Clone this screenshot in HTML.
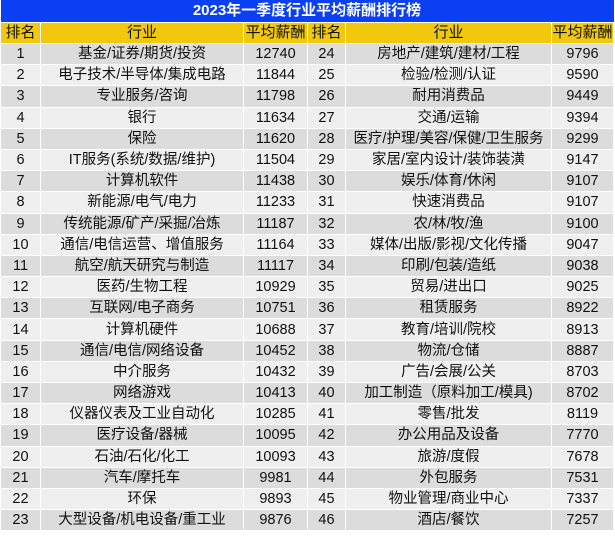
<!DOCTYPE html>
<html><head><meta charset="utf-8"><style>
body{margin:0;background:#fff;width:615px;height:544px;overflow:hidden}
table{border-collapse:collapse;table-layout:fixed;width:613px;font-family:"Liberation Sans","Microsoft YaHei","Noto Sans CJK SC",sans-serif;font-size:14.5px;color:#111}
td{border:1px solid #fff;text-align:center;padding:0;height:20.2px;line-height:20px;white-space:nowrap;overflow:hidden}
.t td{background:#0b3ff4;color:#fff;font-weight:bold;font-size:15px;height:22px;border:none}
.h td{background:#f2c80c;font-size:15px;height:20px}
tr.a td{background:#dcdcdc}
tr.b td{background:#efefef}
</style></head><body>
<table>
<colgroup><col style="width:40px"><col style="width:203px"><col style="width:64px"><col style="width:38px"><col style="width:206px"><col style="width:62px"></colgroup>
<tr class="t"><td colspan="6">2023年一季度行业平均薪酬排行榜</td></tr>
<tr class="h"><td>排名</td><td>行业</td><td>平均薪酬</td><td>排名</td><td>行业</td><td>平均薪酬</td></tr>
<tr class="a"><td>1</td><td>基金/证券/期货/投资</td><td>12740</td><td>24</td><td>房地产/建筑/建材/工程</td><td>9796</td></tr>
<tr class="b"><td>2</td><td>电子技术/半导体/集成电路</td><td>11844</td><td>25</td><td>检验/检测/认证</td><td>9590</td></tr>
<tr class="a"><td>3</td><td>专业服务/咨询</td><td>11798</td><td>26</td><td>耐用消费品</td><td>9449</td></tr>
<tr class="b"><td>4</td><td>银行</td><td>11634</td><td>27</td><td>交通/运输</td><td>9394</td></tr>
<tr class="a"><td>5</td><td>保险</td><td>11620</td><td>28</td><td>医疗/护理/美容/保健/卫生服务</td><td>9299</td></tr>
<tr class="b"><td>6</td><td>IT服务(系统/数据/维护)</td><td>11504</td><td>29</td><td>家居/室内设计/装饰装潢</td><td>9147</td></tr>
<tr class="a"><td>7</td><td>计算机软件</td><td>11438</td><td>30</td><td>娱乐/体育/休闲</td><td>9107</td></tr>
<tr class="b"><td>8</td><td>新能源/电气/电力</td><td>11233</td><td>31</td><td>快速消费品</td><td>9107</td></tr>
<tr class="a"><td>9</td><td>传统能源/矿产/采掘/冶炼</td><td>11187</td><td>32</td><td>农/林/牧/渔</td><td>9100</td></tr>
<tr class="b"><td>10</td><td>通信/电信运营、增值服务</td><td>11164</td><td>33</td><td>媒体/出版/影视/文化传播</td><td>9047</td></tr>
<tr class="a"><td>11</td><td>航空/航天研究与制造</td><td>11117</td><td>34</td><td>印刷/包装/造纸</td><td>9038</td></tr>
<tr class="b"><td>12</td><td>医药/生物工程</td><td>10929</td><td>35</td><td>贸易/进出口</td><td>9025</td></tr>
<tr class="a"><td>13</td><td>互联网/电子商务</td><td>10751</td><td>36</td><td>租赁服务</td><td>8922</td></tr>
<tr class="b"><td>14</td><td>计算机硬件</td><td>10688</td><td>37</td><td>教育/培训/院校</td><td>8913</td></tr>
<tr class="a"><td>15</td><td>通信/电信/网络设备</td><td>10452</td><td>38</td><td>物流/仓储</td><td>8887</td></tr>
<tr class="b"><td>16</td><td>中介服务</td><td>10432</td><td>39</td><td>广告/会展/公关</td><td>8703</td></tr>
<tr class="a"><td>17</td><td>网络游戏</td><td>10413</td><td>40</td><td>加工制造（原料加工/模具)</td><td>8702</td></tr>
<tr class="b"><td>18</td><td>仪器仪表及工业自动化</td><td>10285</td><td>41</td><td>零售/批发</td><td>8119</td></tr>
<tr class="a"><td>19</td><td>医疗设备/器械</td><td>10095</td><td>42</td><td>办公用品及设备</td><td>7770</td></tr>
<tr class="b"><td>20</td><td>石油/石化/化工</td><td>10093</td><td>43</td><td>旅游/度假</td><td>7678</td></tr>
<tr class="a"><td>21</td><td>汽车/摩托车</td><td>9981</td><td>44</td><td>外包服务</td><td>7531</td></tr>
<tr class="b"><td>22</td><td>环保</td><td>9893</td><td>45</td><td>物业管理/商业中心</td><td>7337</td></tr>
<tr class="a"><td>23</td><td>大型设备/机电设备/重工业</td><td>9876</td><td>46</td><td>酒店/餐饮</td><td>7257</td></tr>
</table>
</body></html>
